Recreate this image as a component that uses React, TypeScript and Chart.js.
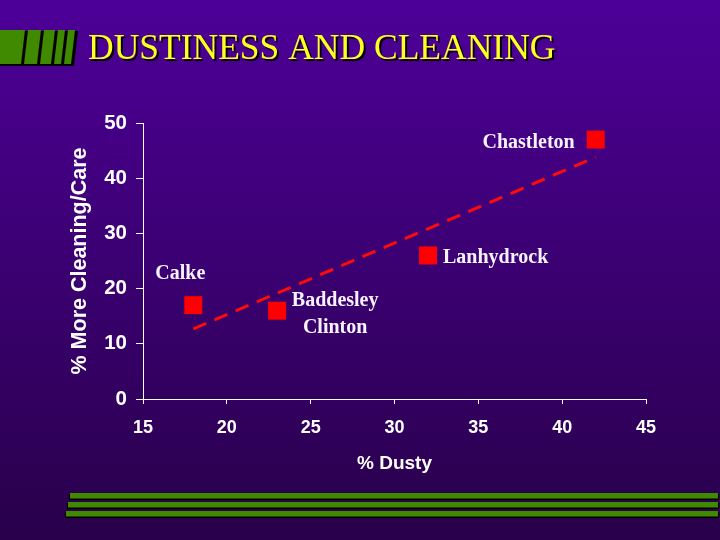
import React, { useEffect, useRef } from "react";
import { Chart, registerables } from "chart.js";

Chart.register(...registerables);

const TITLE = "DUSTINESS AND CLEANING";
const X_TITLE = "% Dusty";
const Y_TITLE = "% More Cleaning/Care";

const siteNames = ["Calke", "Baddesley|Clinton", "Lanhydrock", "Chastleton"];
const dustyPct = [18, 23, 32, 42];
const cleaningPct = [17, 16, 26, 47];

const trendX = [18, 42];
const trendY = [12.7, 43.8];

const xMin = 15;
const xMax = 45;
const xStep = 5;
const yMin = 0;
const yMax = 50;
const yStep = 10;

const SANS = "'Liberation Sans', Arial, sans-serif";
const SERIF = "'Liberation Serif', 'Times New Roman', serif";
const GREEN = "#3f8a00";

// label placement (style): [dx, dy, align]
const labelPlacement: Record<string, [number, number, CanvasTextAlign]> = {
  Calke: [-13, -31, "center"],
  "Baddesley|Clinton": [58, -10, "center"],
  Lanhydrock: [15, 2, "left"],
  Chastleton: [-21, 3, "right"],
};

const backgroundPlugin = {
  id: "slideBackground",
  beforeDraw(chart: any) {
    const { ctx, width, height } = chart;
    ctx.save();
    const g = ctx.createLinearGradient(0, 0, 0, height);
    g.addColorStop(0, "#4d0098");
    g.addColorStop(1, "#28004a");
    ctx.fillStyle = g;
    ctx.fillRect(0, 0, width, height);

    // top-left striped block
    ctx.fillStyle = "#000000";
    ctx.beginPath();
    ctx.moveTo(0, 31);
    ctx.lineTo(78, 31);
    ctx.lineTo(74, 66);
    ctx.lineTo(0, 66);
    ctx.closePath();
    ctx.fill();
    const stripes = [
      [0, 25],
      [28, 41],
      [44, 55],
      [58, 65],
      [68, 75],
    ];
    ctx.fillStyle = GREEN;
    stripes.forEach(([a, b]) => {
      ctx.beginPath();
      ctx.moveTo(a, 30);
      ctx.lineTo(b, 30);
      ctx.lineTo(b - 4, 64);
      ctx.lineTo(a === 0 ? 0 : a - 4, 64);
      ctx.closePath();
      ctx.fill();
    });

    // bottom bars
    const bars = [
      [70, 493],
      [68, 502],
      [66, 511],
    ];
    bars.forEach(([x0, y0]) => {
      ctx.fillStyle = "#000000";
      ctx.fillRect(x0 - 1, y0 + 1, 720 - x0, 6);
      ctx.fillStyle = GREEN;
      ctx.fillRect(x0, y0, 718 - x0, 5.5);
    });

    // title
    ctx.font = `35.5px ${SERIF}`;
    ctx.textAlign = "left";
    ctx.textBaseline = "alphabetic";
    ctx.fillStyle = "#000000";
    ctx.fillText(TITLE, 90, 61);
    ctx.fillStyle = "#ffff22";
    ctx.fillText(TITLE, 88, 59);
    ctx.restore();
  },
};

const labelPlugin = {
  id: "siteLabels",
  afterDatasetsDraw(chart: any) {
    const { ctx } = chart;
    const xs = chart.scales.x;
    const ys = chart.scales.y;
    ctx.save();
    ctx.font = `bold 20px ${SERIF}`;
    ctx.fillStyle = "#f6f2ff";
    ctx.textBaseline = "middle";
    siteNames.forEach((name, i) => {
      const px = xs.getPixelForValue(dustyPct[i]);
      const py = ys.getPixelForValue(cleaningPct[i]);
      const [dx, dy, align] = labelPlacement[name];
      ctx.textAlign = align;
      const lines = name.split("|");
      lines.forEach((ln, k) => {
        ctx.fillText(ln, px + dx, py + dy + k * 27);
      });
    });
    ctx.restore();
  },
};

export default function App() {
  const ref = useRef<HTMLCanvasElement>(null);
  useEffect(() => {
    if (!ref.current) return;
    const chart = new Chart(ref.current, {
      type: "scatter",
      data: {
        datasets: [
          {
            type: "line",
            label: "Trend",
            data: trendX.map((x, i) => ({ x, y: trendY[i] })),
            borderColor: "#ff0a0a",
            borderWidth: 3,
            borderDash: [14, 9],
            pointRadius: 0,
            fill: false,
          } as any,
          {
            label: "Sites",
            data: dustyPct.map((x, i) => ({ x, y: cleaningPct[i] })),
            pointStyle: "rect",
            pointRadius: 12.7,
            pointHoverRadius: 12.7,
            backgroundColor: "#ff0000",
            borderWidth: 0,
          },
        ],
      },
      options: {
        responsive: false,
        animation: false,
        layout: { padding: { left: 0, top: 123, right: 74, bottom: 0 } },
        plugins: {
          legend: { display: false },
          tooltip: { enabled: false },
        },
        scales: {
          x: {
            type: "linear",
            min: xMin,
            max: xMax,
            ticks: {
              stepSize: xStep,
              color: "#ffffff",
              font: { family: SANS, size: 18, weight: "bold" },
              padding: 13,
            },
            grid: {
              drawOnChartArea: false,
              drawTicks: true,
              tickLength: 5,
              color: "#ffffff",
            },
            border: { color: "#ffffff", width: 1 },
            title: {
              display: true,
              text: X_TITLE,
              color: "#ffffff",
              font: { family: SANS, size: 19, weight: "bold" },
              padding: { top: 0, bottom: 65 },
            },
            afterFit(scale: any) {
              scale.height = 141;
            },
          },
          y: {
            type: "linear",
            min: yMin,
            max: yMax,
            ticks: {
              stepSize: yStep,
              color: "#ffffff",
              font: { family: SANS, size: 20.5, weight: "bold" },
              padding: 9,
            },
            grid: {
              drawOnChartArea: false,
              drawTicks: true,
              tickLength: 7,
              color: "#ffffff",
            },
            border: { color: "#ffffff", width: 1 },
            title: {
              display: true,
              text: Y_TITLE,
              color: "#ffffff",
              font: { family: SANS, size: 21.5, weight: "bold" },
              padding: { top: 67, bottom: 0 },
            },
            afterFit(scale: any) {
              scale.width = 143;
            },
          },
        },
      },
      plugins: [backgroundPlugin, labelPlugin],
    });
    return () => chart.destroy();
  }, []);
  return (
    <div style={{ position: "fixed", left: 0, top: 0, width: 720, height: 540 }}>
      <canvas ref={ref} width={720} height={540} style={{ display: "block" }} />
    </div>
  );
}
